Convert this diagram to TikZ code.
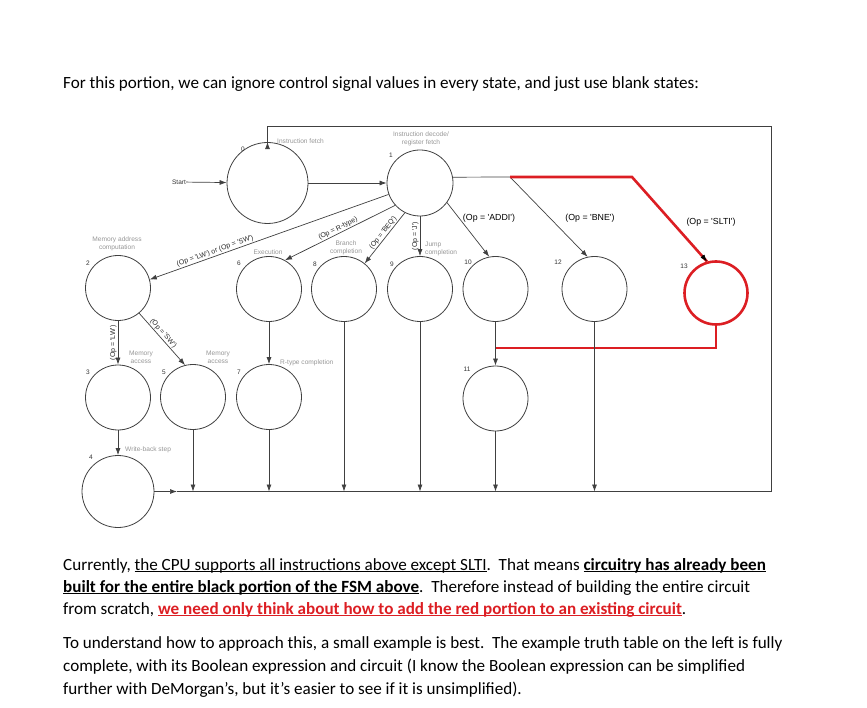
\documentclass[tikz,border=0pt]{standalone}
\usepackage{fontspec}
\setmainfont{Carlito}
\newfontfamily\diagfont{Liberation Sans}
\usetikzlibrary{arrows.meta,calc}
\definecolor{fsmred}{RGB}{220,30,35}
\definecolor{notegray}{RGB}{150,150,150}
\newsavebox{\undlbox}
\newcommand{\undl}[1]{\sbox{\undlbox}{#1}\rlap{\rule[-2.2pt]{\wd\undlbox}{1.1pt}}\usebox{\undlbox}}

\begin{document}
\begin{tikzpicture}
	[x=1pt,y=-1pt,
	fsmstate/.style={circle,draw=black!75,line width=0.8pt,minimum size=65pt,inner sep=0pt},
	num/.style={font=\diagfont\fontsize{6.5}{7.5}\selectfont,text=black!80,inner sep=0pt},
	note/.style={font=\diagfont\fontsize{6.6}{7.6}\selectfont,text=notegray,align=center,inner sep=0pt},
	cond/.style={font=\diagfont\fontsize{7}{8}\selectfont,text=black!85,inner sep=1pt},
	opname/.style={font=\diagfont\fontsize{8.8}{10}\selectfont},
	wire/.style={draw=black!75,line width=0.7pt},
	arr/.style={wire,-{Latex[length=7pt,width=5pt]}},
	redwire/.style={draw=fsmred,line width=2.6pt},
	txt/.style={anchor=base west,inner sep=0pt,font=\fontsize{17.1}{21}\selectfont}]
	\useasboundingbox (0,0) rectangle (867,708);

	\node[txt] (intro) at (63,89) {For this portion, we can ignore control signal values in every state, and just use blank states:};

	% states
	\node[fsmstate,minimum size=81pt] (s0) at (267.5,183) {};
	\node[fsmstate,minimum size=66pt] (s1) at (420,183) {};
	\node[fsmstate] (s2) at (118,288) {};
	\node[fsmstate] (s6) at (269,289) {};
	\node[fsmstate] (s8) at (344,289) {};
	\node[fsmstate] (s9) at (420,289) {};
	\node[fsmstate] (s10) at (495.5,289) {};
	\node[fsmstate] (s12) at (594.5,289) {};
	\node[fsmstate,draw=fsmred,line width=2.6pt,minimum size=63pt] (s13) at (716,293) {};
	\node[fsmstate] (s3) at (118,397.5) {};
	\node[fsmstate] (s5) at (193,397) {};
	\node[fsmstate] (s7) at (269,397) {};
	\node[fsmstate] (s11) at (495.5,398.5) {};
	\node[fsmstate,minimum size=72pt] (s4) at (118,491.5) {};

	\node[num] (n0) at (243,149) {0};
	\node[num] (n1) at (391,155) {1};
	\node[num] (n2) at (88,263) {2};
	\node[num] (n6) at (239,263) {6};
	\node[num] (n8) at (315,264) {8};
	\node[num] (n9) at (392,264) {9};
	\node[num] (n10) at (468,262) {10};
	\node[num] (n12) at (558,262) {12};
	\node[num] (n13) at (684,266) {13};
	\node[num] (n3) at (88,372) {3};
	\node[num] (n5) at (164,372) {5};
	\node[num] (n7) at (239,372) {7};
	\node[num] (n11) at (467,369) {11};
	\node[num] (n4) at (91,457) {4};

	\node[note,anchor=west] (fetch) at (277,141) {Instruction fetch};
	\node[note] (decode) at (421,138.5) {Instruction decode/\\register fetch};
	\node[note] (memaddr) at (117,243.5) {Memory address\\computation};
	\node[note] (exec) at (268,252) {Execution};
	\node[note] (branch) at (346,248) {Branch\\completion};
	\node[note,anchor=west,align=left] (jump) at (425,249) {Jump\\completion};
	\node[note] (memlw) at (141,357.5) {Memory\\access};
	\node[note] (memsw) at (218,357.5) {Memory\\access};
	\node[note,anchor=west] (rdone) at (280,363) {R-type completion};
	\node[note,anchor=west] (wback) at (125,450) {Write-back step};

	\node[opname] (addi) at (489,218) {(Op = 'ADDI')};
	\node[opname] (bne) at (590,218) {(Op = 'BNE')};
	\node[opname] (slti) at (711,222) {(Op = 'SLTI')};

	\node[num] (start) at (179,182) {Start};
	\coordinate (fork) at (510,177);
	\coordinate (bend) at (632,177);
	\coordinate (tip4) at (177,491.5);
	\coordinate (rb) at (771,491.5);
	\coordinate (rt) at (771,126);
	\coordinate (join) at (495.5,348);

	% transitions
	\draw[arr] (start) -- (s0);
	\draw[arr] (s0) -- (s1);
	\draw[arr] (s1.200) -- node[cond,pos=0.72,above,sloped] {(Op = 'LW') or (Op = 'SW')} (s2.15);
	\draw[arr] (s1.222) -- node[cond,pos=0.5,above,sloped] {(Op = R-type)} (s6.61);
	\draw[arr] (s1.243) -- node[cond,pos=0.45,above,sloped] {(Op = 'BEQ')} (s8.51);
	\draw[arr] (s1) -- node[cond,rotate=90,anchor=south] {(Op = 'J')} (s9);
	\draw[arr] (s1.-36) -- (s10.101);
	\draw[wire] (s1.10) -- (fork);
	\draw[arr] (fork) -- (s12.102);
	\draw[redwire] (fork) -- (bend) -- (s13.106);
	\draw[arr,draw=black] ($(s13.106)+(-5,-6)$) -- (s13.106);
	\draw[arr] (s2) -- node[cond,rotate=90,anchor=south] {(Op = 'LW')} (s3);
	\draw[arr] (s2.-50) -- node[cond,pos=0.45,above,sloped] {(Op = 'SW')} (s5.104);
	\draw[arr] (s6) -- (s7);
	\draw[arr] (s10) -- (s11);
	\draw[arr] (s3) -- (s4);
	\draw[redwire] (s13.south) |- (join);
	\foreach \s in {s5,s7,s8,s9,s11,s12}
		\draw[arr] (\s.south) -- (\s.south |- tip4);
	\draw[arr] (s4.east) -- (tip4);
	\draw[wire] (tip4) -- (rb) -- (rt) -| ([yshift=-6pt]s0.north);
	\draw[arr] ([yshift=-6pt]s0.north) -- (s0.north);

	\node[txt] (p1a) at (63,570) {Currently, \undl{the CPU supports all instructions above except SLTI}.\ \ That means \textbf{\undl{circuitry has already been}}};
	\node[txt] (p1b) at (63,592) {\textbf{\undl{built for the entire black portion of the FSM above}}.\ \ Therefore instead of building the entire circuit};
	\node[txt] (p1c) at (63,614) {from scratch, \textcolor{fsmred}{\textbf{\undl{we need only think about how to add the red portion to an existing circuit}}}.};
	\node[txt] (p2a) at (63,648) {To understand how to approach this, a small example is best.\ \ The example truth table on the left is fully};
	\node[txt] (p2b) at (63,671) {complete, with its Boolean expression and circuit (I know the Boolean expression can be simplified};
	\node[txt] (p2c) at (63,694) {further with DeMorgan’s, but it’s easier to see if it is unsimplified).};
\end{tikzpicture}
\end{document}
